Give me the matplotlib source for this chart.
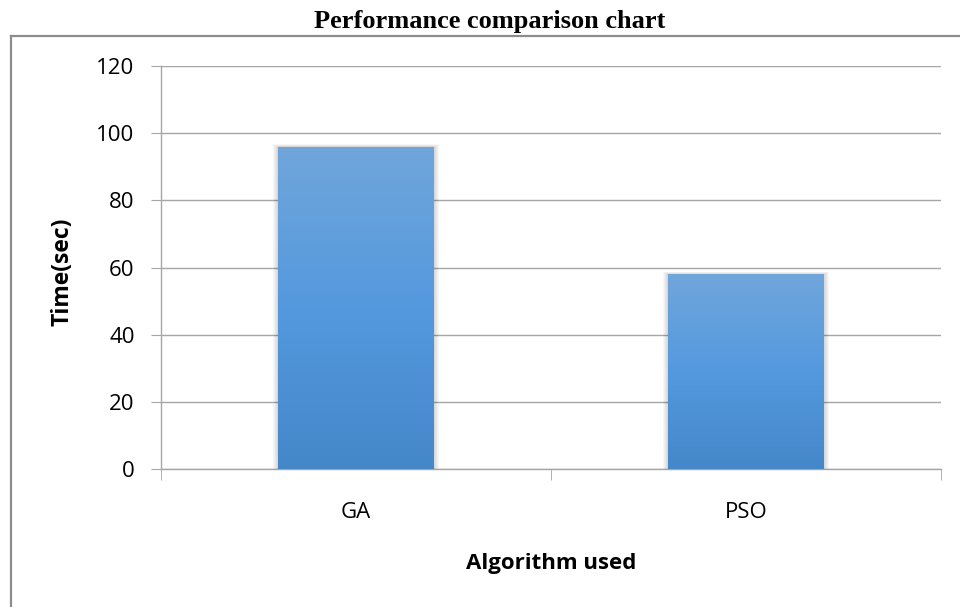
import numpy as np
import matplotlib
matplotlib.use("Agg")
import matplotlib.pyplot as plt
from matplotlib.colors import LinearSegmentedColormap
from matplotlib.patches import Rectangle
from matplotlib.lines import Line2D

# data
algorithms = ["GA", "PSO"]
times = [96, 58]
yticks = [0, 20, 40, 60, 80, 100, 120]

W, H = 960, 607
fig = plt.figure(figsize=(W / 100, H / 100), dpi=100)
ax = fig.add_axes([161 / W, 138 / H, 780 / W, 403 / H])

sans = ["Open Sans", "DejaVu Sans"]
serif = ["Liberation Serif", "DejaVu Serif"]

x = np.arange(len(algorithms))
bw = 0.40
bars = ax.bar(x, times, width=bw, color="none", edgecolor="none", zorder=3)

# gradient fill, clipped to each bar
cmap = LinearSegmentedColormap.from_list(
    "xl", [(0.27, 0.53, 0.79), (0.33, 0.60, 0.87), (0.44, 0.65, 0.86)])
grad = np.linspace(0, 1, 256).reshape(-1, 1)
px = 2.0 / 780   # one pixel in data units (x)
py = 120.0 / 403  # one pixel in data units (y)
for b in bars:
    x0, w, h = b.get_x(), b.get_width(), b.get_height()
    # soft shadow
    for k in range(1, 6):
        ax.add_patch(Rectangle((x0 - k * px, 0), w + 2 * k * px, h + k * py * 0.5,
                               color="black", alpha=0.03, lw=0, zorder=2))
    im = ax.imshow(grad, cmap=cmap, origin="lower", aspect="auto",
                   extent=[x0, x0 + w, 0, h], zorder=3)
    im.set_clip_path(b)

ax.set_xlim(-0.5, len(algorithms) - 0.5)
ax.set_ylim(0, 120)

ax.set_yticks(yticks)
ax.yaxis.grid(True, color="#a6a6a6", lw=1)
ax.set_axisbelow(True)
for s in ["top", "right"]:
    ax.spines[s].set_visible(False)
for s in ["left", "bottom"]:
    ax.spines[s].set_color("#a6a6a6")
    ax.spines[s].set_linewidth(1)

ax.tick_params(axis="y", length=7, color="#a6a6a6", labelsize=16, pad=12)
ax.set_xticks(x)
ax.set_xticklabels(algorithms)
ax.set_xticks([-0.5, 0.5, 1.5], minor=True)
ax.tick_params(axis="x", which="major", length=0, labelsize=16, pad=24)
ax.tick_params(axis="x", which="minor", length=8, color="#a6a6a6")
for lab in ax.get_xticklabels() + ax.get_yticklabels():
    lab.set_family(sans)

ax.set_ylabel("Time(sec)", fontsize=16.5, fontweight="bold", family=sans)
ax.yaxis.set_label_coords((62 - 161) / 780, (607 - 271.5 - 138) / 403)
ax.yaxis.label.set_va("center")
ax.set_xlabel("Algorithm used", fontsize=16, fontweight="bold", family=sans)
ax.xaxis.set_label_coords(0.5, (607 - 564 - 138) / 403)
ax.xaxis.label.set_va("center")

# title and outer frame
fig.text(490 / W, 1 - 28 / H, "Performance comparison chart", ha="center", va="baseline",
         fontsize=19, fontweight="bold", family=serif)
fig.add_artist(Line2D([11 / W, 1], [1 - 36 / H] * 2, color="#8c8c8c", lw=1.6))
fig.add_artist(Line2D([11 / W] * 2, [1 - 36 / H, 0], color="#8c8c8c", lw=1.6))

fig.savefig("out.png", dpi=100)
